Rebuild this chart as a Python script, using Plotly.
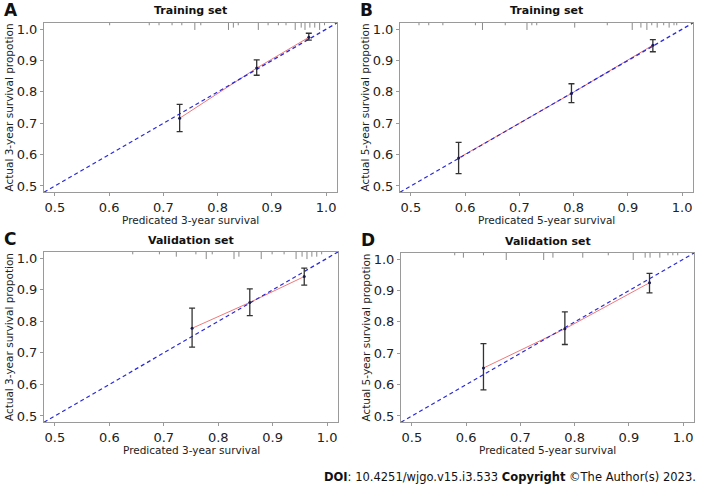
import plotly.graph_objects as go

# ---------------- data ----------------
panel_letters = ["A", "B", "C", "D"]
panel_titles = ["Training set", "Training set", "Validation set", "Validation set"]
x_titles = ["Predicated 3-year survival", "Predicated 5-year survival",
            "Predicated 3-year survival", "Predicated 5-year survival"]
y_titles = ["Actual 3-year survival propotion", "Actual 5-year survival propotion",
            "Actual 3-year survival propotion", "Actual 5-year survival propotion"]
tick_vals = [0.5, 0.6, 0.7, 0.8, 0.9, 1.0]
tick_text = ["0.5", "0.6", "0.7", "0.8", "0.9", "1.0"]

# calibration points (predicted, observed, lower CI, upper CI)
pred_A = [0.730, 0.872, 0.968]
obs_A = [0.716, 0.876, 0.974]
lo_A = [0.673, 0.853, 0.965]
hi_A = [0.760, 0.902, 0.987]

pred_B = [0.588, 0.796, 0.946]
obs_B = [0.589, 0.795, 0.949]
lo_B = [0.539, 0.766, 0.928]
hi_B = [0.639, 0.826, 0.967]

pred_C = [0.752, 0.858, 0.958]
obs_C = [0.778, 0.860, 0.942]
lo_C = [0.718, 0.818, 0.915]
hi_C = [0.842, 0.903, 0.969]

pred_D = [0.632, 0.782, 0.938]
obs_D = [0.653, 0.778, 0.925]
lo_D = [0.583, 0.728, 0.893]
hi_D = [0.731, 0.832, 0.955]

# rug of predicted values (position, relative frequency)
rug_A_x = [0.601, 0.674, 0.692, 0.716, 0.734, 0.758, 0.769, 0.820, 0.829, 0.838,
           0.875, 0.893, 0.912, 0.926, 0.943, 0.954, 0.961, 0.970, 0.979, 0.988, 0.997]
rug_A_n = [1, 1, 1, 1, 1, 3, 1, 3, 2, 1, 3, 1, 1, 1, 3, 2, 3, 2, 2, 3, 1]

rug_B_x = [0.515, 0.533, 0.559, 0.619, 0.632, 0.674, 0.714, 0.723, 0.732, 0.802,
           0.862, 0.908, 0.924, 0.935, 0.944, 0.954, 0.966, 0.976, 0.985, 0.990]
rug_B_n = [1, 1, 1, 1, 3, 1, 3, 1, 1, 2, 1, 3, 2, 3, 1, 2, 1, 2, 1, 1]

rug_C_x = [0.643, 0.692, 0.723, 0.759, 0.778, 0.789, 0.829, 0.838, 0.879, 0.899,
           0.921, 0.943, 0.954, 0.963, 0.972, 0.981, 0.990]
rug_C_n = [1, 1, 2, 1, 3, 1, 3, 2, 3, 1, 1, 3, 2, 3, 2, 2, 1]

rug_D_x = [0.579, 0.595, 0.632, 0.674, 0.743, 0.760, 0.815, 0.862, 0.908, 0.930,
           0.939, 0.957, 0.972, 0.981, 0.990]
rug_D_n = [1, 2, 1, 3, 3, 2, 2, 1, 3, 2, 2, 2, 1, 1, 1]

axis_range = [0.48, 1.02]

# ---------------- layout geometry ----------------
W, H = 705, 487
px_x = [(44, 337), (400, 693), (44, 338), (401, 694)]
px_y = [(22, 192), (22, 192), (252, 423), (253, 423)]

FONT = "DejaVu Sans"
fig = go.Figure()

panels = [
    (pred_A, obs_A, lo_A, hi_A, rug_A_x, rug_A_n),
    (pred_B, obs_B, lo_B, hi_B, rug_B_x, rug_B_n),
    (pred_C, obs_C, lo_C, hi_C, rug_C_x, rug_C_n),
    (pred_D, obs_D, lo_D, hi_D, rug_D_x, rug_D_n),
]

annotations = []
for i, (pred, obs, lo, hi, rx, rn) in enumerate(panels):
    k = "" if i == 0 else str(i + 1)
    xa, ya = "x" + k, "y" + k
    # red apparent calibration line
    fig.add_trace(go.Scatter(x=pred, y=obs, mode="lines", xaxis=xa, yaxis=ya,
                             line=dict(color="#f07878", width=1), showlegend=False,
                             hoverinfo="skip"))
    # ideal line
    fig.add_trace(go.Scatter(x=axis_range, y=axis_range, mode="lines", xaxis=xa, yaxis=ya,
                             line=dict(color="#2a2ad8", width=1.2, dash="4px,3px"),
                             showlegend=False, hoverinfo="skip"))
    # points with CIs
    fig.add_trace(go.Scatter(
        x=pred, y=obs, mode="markers", xaxis=xa, yaxis=ya,
        marker=dict(color="#1a1a50", size=3),
        error_y=dict(type="data", symmetric=False,
                     array=[h - o for h, o in zip(hi, obs)],
                     arrayminus=[o - l for o, l in zip(obs, lo)],
                     color="#333333", thickness=1.3, width=3),
        showlegend=False, hoverinfo="skip"))
    # rug at top
    top = axis_range[1]
    rxs, rys = [], []
    for v, n in zip(rx, rn):
        rxs += [v, v, None]
        rys += [top, top - 0.0075 * n, None]
    fig.add_trace(go.Scatter(x=rxs, y=rys, mode="lines", xaxis=xa, yaxis=ya,
                             line=dict(color="#8a8a8a", width=1), showlegend=False,
                             hoverinfo="skip"))

    x0, x1 = px_x[i]
    y0, y1 = px_y[i]
    dom_x = [x0 / W, x1 / W]
    dom_y = [1 - y1 / H, 1 - y0 / H]
    axis_common = dict(range=axis_range, showgrid=False, zeroline=False,
                       showline=True, mirror=True, linecolor="#9a9a9a", linewidth=1,
                       ticks="outside", ticklen=3, tickcolor="#9a9a9a",
                       tickvals=tick_vals, ticktext=tick_text,
                       tickfont=dict(family=FONT, size=13, color="#222222"))
    fig.layout["xaxis" + k] = dict(domain=dom_x, anchor=ya, **axis_common)
    fig.layout["yaxis" + k] = dict(domain=dom_y, anchor=xa, **axis_common)

    cx = (x0 + x1) / 2
    # panel title
    annotations.append(dict(text="<b>" + panel_titles[i] + "</b>", x=cx / W, y=1 - (y0 - 12) / H,
                            xref="paper", yref="paper", showarrow=False,
                            xanchor="center", yanchor="middle",
                            font=dict(family=FONT, size=11, color="#111111")))
    # panel letter
    annotations.append(dict(text="<b>" + panel_letters[i] + "</b>",
                            x=(x0 - 42) / W, y=1 - (y0 - 13) / H,
                            xref="paper", yref="paper", showarrow=False,
                            xanchor="left", yanchor="middle",
                            font=dict(family=FONT, size=17, color="#111111")))
    # x title
    annotations.append(dict(text=x_titles[i], x=cx / W, y=1 - (y1 + 28) / H,
                            xref="paper", yref="paper", showarrow=False,
                            xanchor="center", yanchor="middle",
                            font=dict(family=FONT, size=10.5, color="#222222")))
    # y title
    annotations.append(dict(text=y_titles[i], x=(x0 - 35) / W, y=1 - ((y0 + y1) / 2) / H,
                            xref="paper", yref="paper", showarrow=False, textangle=-90,
                            xanchor="center", yanchor="middle",
                            font=dict(family=FONT, size=10.5, color="#222222")))

annotations.append(dict(text="<b>DOI</b>: 10.4251/wjgo.v15.i3.533 <b>Copyright</b> ©The Author(s) 2023.",
                        x=698 / W, y=1 - 478 / H, xref="paper", yref="paper",
                        showarrow=False, xanchor="right", yanchor="middle",
                        font=dict(family=FONT, size=11.5, color="#111111")))

fig.update_layout(width=W, height=H, margin=dict(l=0, r=0, t=0, b=0),
                  paper_bgcolor="white", plot_bgcolor="white",
                  annotations=annotations, showlegend=False)

fig.write_html("out.html", config={"displayModeBar": False},
               post_script="document.body.style.margin='0';document.body.style.overflow='hidden';")
